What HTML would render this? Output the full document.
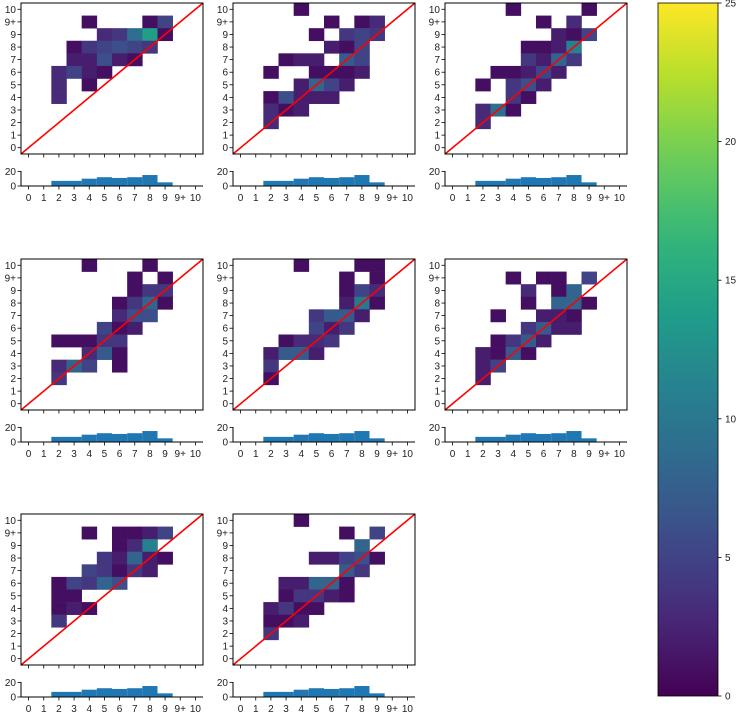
<!DOCTYPE html>
<html><head><meta charset="utf-8">
<style>
body{margin:0;background:#fff;}
svg{display:block;font-family:"Liberation Sans","DejaVu Sans",sans-serif;}
</style></head>
<body>
<svg id="chart" width="738" height="713" viewBox="0 0 738 713" xmlns="http://www.w3.org/2000/svg"></svg>
<script>
const categories = ["0","1","2","3","4","5","6","7","8","9","9+","10"];
const histValues = [0,0,7,7,10,12,11,12,15,5,0,0];
const histTicks = [0,20];
const colorbarTicks = [0,5,10,15,20,25];
// cells: [col, row, count]
const panel1 = [[4,10,1],[8,10,1],[9,10,5],[5,9,3],[6,9,4],[7,9,9],[8,9,14],[9,9,1],[3,8,1],[4,8,4],[5,8,5],[6,8,6],[7,8,5],[8,8,4],[3,7,2],[4,7,2],[5,7,6],[6,7,2],[7,7,1],[2,6,3],[3,6,5],[4,6,2],[5,6,1],[2,5,3],[4,5,1],[2,4,3]];
const panel2 = [[4,11,1],[6,10,1],[8,10,1],[9,10,3],[5,9,1],[7,9,4],[8,9,5],[9,9,4],[6,8,2],[7,8,1],[8,8,5],[3,7,1],[4,7,2],[5,7,2],[7,7,7],[8,7,5],[2,6,1],[5,6,1],[6,6,1],[7,6,1],[8,6,2],[4,5,2],[5,5,8],[6,5,5],[7,5,2],[2,4,1],[3,4,6],[4,4,2],[5,4,2],[6,4,2],[2,3,3],[3,3,1],[4,3,2],[2,2,3]];
const panel3 = [[4,11,1],[9,11,1],[6,10,1],[8,10,3],[7,9,2],[8,9,1],[9,9,5],[5,8,1],[6,8,1],[7,8,2],[8,8,11],[5,7,4],[6,7,2],[7,7,8],[8,7,4],[3,6,1],[4,6,1],[5,6,2],[6,6,5],[7,6,2],[2,5,1],[4,5,4],[5,5,6],[6,5,2],[4,4,4],[5,4,1],[2,3,3],[3,3,9],[4,3,1],[2,2,3]];
const panel4 = [[4,11,1],[8,11,1],[7,10,1],[9,10,1],[7,9,1],[8,9,4],[9,9,4],[6,8,1],[7,8,4],[8,8,8],[9,8,1],[6,7,3],[7,7,6],[8,7,6],[5,6,5],[6,6,1],[7,6,2],[2,5,1],[3,5,1],[4,5,1],[5,5,4],[6,5,4],[4,4,3],[5,4,7],[6,4,1],[2,3,3],[3,3,8],[4,3,5],[6,3,1],[2,2,4]];
const panel5 = [[4,11,1],[8,11,1],[9,11,1],[7,10,1],[9,10,1],[7,9,1],[8,9,5],[9,9,3],[7,8,2],[8,8,10],[9,8,1],[5,7,4],[6,7,7],[7,7,7],[8,7,2],[5,6,5],[6,6,2],[7,6,4],[3,5,1],[4,5,3],[5,5,3],[6,5,4],[2,4,2],[3,4,7],[4,4,7],[5,4,2],[2,3,4],[2,2,1]];
const panel6 = [[4,10,1],[6,10,1],[7,10,1],[9,10,5],[5,9,3],[7,9,1],[8,9,8],[5,8,1],[7,8,8],[8,8,8],[9,8,1],[3,7,1],[6,7,2],[7,7,2],[8,7,1],[5,6,4],[6,6,7],[7,6,2],[8,6,2],[3,5,1],[4,5,4],[5,5,7],[6,5,2],[2,4,2],[3,4,1],[4,4,7],[5,4,1],[2,3,2],[3,3,5],[2,2,2]];
const panel7 = [[4,10,1],[6,10,1],[7,10,1],[8,10,2],[9,10,5],[6,9,1],[7,9,3],[8,9,11],[5,8,4],[6,8,2],[7,8,8],[8,8,2],[9,8,1],[4,7,5],[5,7,4],[6,7,1],[7,7,4],[8,7,2],[2,6,1],[3,6,5],[4,6,4],[5,6,8],[6,6,6],[2,5,1],[3,5,1],[2,4,1],[3,4,2],[4,4,1],[2,3,4]];
const panel8 = [[4,11,1],[7,10,1],[9,10,5],[8,9,8],[5,8,2],[6,8,2],[7,8,5],[8,8,6],[9,8,1],[7,7,7],[8,7,4],[3,6,2],[4,6,2],[5,6,8],[6,6,8],[7,6,1],[3,5,1],[4,5,4],[5,5,4],[6,5,2],[7,5,1],[2,4,2],[3,4,4],[4,4,1],[5,4,1],[2,3,1],[3,3,1],[4,3,2],[2,2,4]];
const panels = [panel1,panel2,panel3,panel4,panel5,panel6,panel7,panel8];
const vmin = 0, vmax = 25, histMax = 20.5;

const VIR = [[68,1,84],[72,40,120],[62,74,137],[49,104,142],[38,130,142],[31,158,137],[53,183,121],[109,205,89],[180,222,44],[253,231,37]];
function viridis(t){t=Math.max(0,Math.min(1,t));const p=t*(VIR.length-1),i=Math.min(Math.floor(p),VIR.length-2),f=p-i;const c=VIR[i].map((v,k)=>Math.round(v+(VIR[i+1][k]-v)*f));return `rgb(${c[0]},${c[1]},${c[2]})`;}
const NS="http://www.w3.org/2000/svg";
const svg=document.getElementById('chart');
function mk(tag,attrs,parent){const e=document.createElementNS(NS,tag);for(const k in attrs)e.setAttribute(k,attrs[k]);(parent||svg).appendChild(e);return e;}

const colX=[21,233,445], rowY=[3,259,514];
const W=182, H=151, HT=168, HH=15;
const n=categories.length;
panels.forEach((cells,pi)=>{
  const x0=colX[pi%3], y0=rowY[Math.floor(pi/3)];
  const g=mk('g',{});
  
  
  const sx=v=>x0+(v+0.5)/n*W;
  const sy=v=>y0+H-(v+0.5)/n*H;
  cells.forEach(c=>{
    const r=mk('rect',{x:sx(c[0]-0.5),y:sy(c[1]+0.5),width:W/n+0.3,height:H/n+0.3,fill:viridis((c[2]-vmin)/(vmax-vmin))},g);
    
    
  });
  const ln=mk('line',{x1:sx(-0.5),y1:sy(-0.5),x2:sx(n-0.5),y2:sy(n-0.5),stroke:'#ff0000','stroke-width':1.6},g);
  
  
  const fr=mk('rect',{x:x0,y:y0,width:W,height:H,fill:'none',stroke:'#000','stroke-width':1},g);
  
  
  categories.forEach((lab,i)=>{
    mk('line',{x1:x0-3.5,x2:x0,y1:sy(i),y2:sy(i),stroke:'#000','stroke-width':0.8},g);
    mk('line',{x1:sx(i),x2:sx(i),y1:y0+H,y2:y0+H+3.5,stroke:'#000','stroke-width':0.8},g);
    const t=mk('text',{x:x0-5,y:sy(i)+3.5,'text-anchor':'end','font-size':10,fill:'#222'},g);
    t.textContent=lab;
    
    
  });
  // histogram
  const hy0=y0+HT;
  const hy=v=>hy0+HH-v/histMax*HH;
  histValues.forEach((v,i)=>{
    if(v<=0)return;
    const b=mk('rect',{x:sx(i-0.5),y:hy(v),width:W/n,height:hy(0)-hy(v),fill:'#1f77b4'},g);
    
    
  });
  mk('line',{x1:x0,x2:x0,y1:hy0,y2:hy0+HH,stroke:'#000','stroke-width':1},g);
  mk('line',{x1:x0,x2:x0+W,y1:hy0+HH,y2:hy0+HH,stroke:'#000','stroke-width':1},g);
  histTicks.forEach(v=>{
    mk('line',{x1:x0-3.5,x2:x0,y1:hy(v),y2:hy(v),stroke:'#000','stroke-width':0.8},g);
    const t=mk('text',{x:x0-5,y:hy(v)+3.5,'text-anchor':'end','font-size':10,fill:'#222'},g);
    t.textContent=v;
    
    
  });
  categories.forEach((lab,i)=>{
    mk('line',{x1:sx(i),x2:sx(i),y1:hy0+HH,y2:hy0+HH+3.5,stroke:'#000','stroke-width':0.8},g);
    const t=mk('text',{x:sx(i),y:hy0+HH+15,'text-anchor':'middle','font-size':10,fill:'#222'},g);
    t.textContent=lab;
    
    
  });
});

// colorbar
const cb=mk('g',{});


const cbX=658,cbY=3,cbW=60,cbH=693;
const defs=mk('defs',{},cb);
const grad=mk('linearGradient',{id:'vg',x1:0,y1:1,x2:0,y2:0},defs);
for(let i=0;i<=20;i++){mk('stop',{offset:(i/20),'stop-color':viridis(i/20)},grad);}
const cbr=mk('rect',{x:cbX,y:cbY,width:cbW,height:cbH,fill:'url(#vg)',stroke:'#000','stroke-width':0.8},cb);


colorbarTicks.forEach(v=>{
  const y=cbY+cbH-(v-vmin)/(vmax-vmin)*cbH;
  mk('line',{x1:cbX+cbW,x2:cbX+cbW+3.5,y1:y,y2:y,stroke:'#000','stroke-width':0.8},cb);
  const t=mk('text',{x:cbX+cbW+7,y:y+3.5,'font-size':10,fill:'#222'},cb);
  t.textContent=v;
  
  
});
</script>
</body></html>
